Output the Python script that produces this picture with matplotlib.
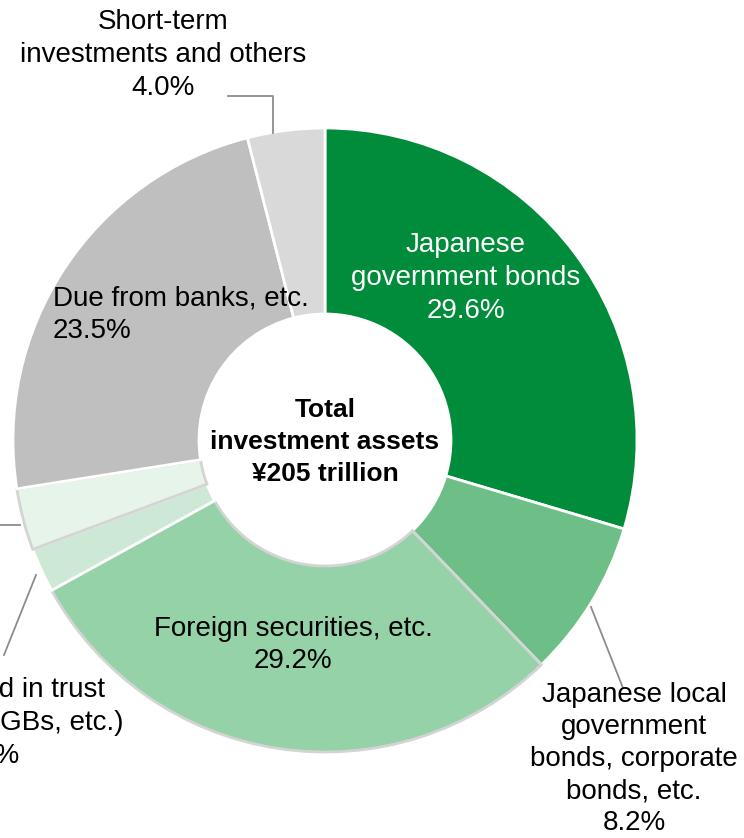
import matplotlib.pyplot as plt

plt.rcParams["font.family"] = ["Liberation Sans", "DejaVu Sans"]

# asset breakdown (% of total investment assets)
labels = [
    "Japanese\ngovernment bonds",
    "Japanese local\ngovernment\nbonds, corporate\nbonds, etc.",
    "Foreign securities, etc.",
    "Money held in trust\n(excluding JGBs, etc.)",
    "",
    "Due from banks, etc.",
    "Short-term\ninvestments and others",
]
values = [29.6, 8.2, 29.2, 2.3, 3.2, 23.5, 4.0]
colors = ["#008c3a", "#6dbf87", "#95d2a8", "#cde8d5", "#e6f4ea", "#bfbfbf", "#d9d9d9"]
edges = ["white", "white", "#d4d4d4", "white", "#d4d4d4", "white", "white"]
total_text = "Total\ninvestment assets\n¥205 trillion"

W, H = 744, 838
fig = plt.figure(figsize=(W / 100, H / 100), dpi=100)
ax = fig.add_axes([0, 0, 1, 1])
ax.set_xlim(0, W)
ax.set_ylim(0, H)
ax.set_aspect("equal")
ax.axis("off")

cx, cy = 325, H - 440
r_out, r_in = 312, 126

wedges, _ = ax.pie(values, colors=colors, startangle=90, counterclock=False,
                   center=(cx, cy), radius=r_out,
                   wedgeprops=dict(width=r_out - r_in, linewidth=2))
for w, ec in zip(wedges, edges):
    w.set_edgecolor(ec)
ax.set_xlim(0, W)
ax.set_ylim(0, H)


def lab(i, x, y, color="black", ha="center", ls=1.33):
    txt = labels[i] + "\n" + f"{values[i]:.1f}%" if labels[i] else ""
    ax.text(x, H - y, txt, ha=ha, va="center", color=color, fontsize=20,
            linespacing=ls, multialignment=ha)


lab(0, 466, 278, color="white")
lab(1, 634, 759, ls=1.3)
lab(2, 293, 645)
lab(3, -12, 723)
lab(5, 53, 315, ha="left")
lab(6, 163, 55)

ax.text(cx, H - 442, total_text, ha="center", va="center", fontsize=19,
        fontweight="bold", linespacing=1.42)

# leader lines
lc = dict(color="#8c8c8c", linewidth=1.3)
ax.plot([228, 273, 273], [H - 96, H - 96, H - 133], **lc)
ax.plot([591, 623], [H - 607, H - 688], **lc)
ax.plot([36, 4], [H - 575, H - 655], **lc)
ax.plot([0, 20], [H - 525, H - 525], **lc)

fig.savefig("out.png", dpi=100)
